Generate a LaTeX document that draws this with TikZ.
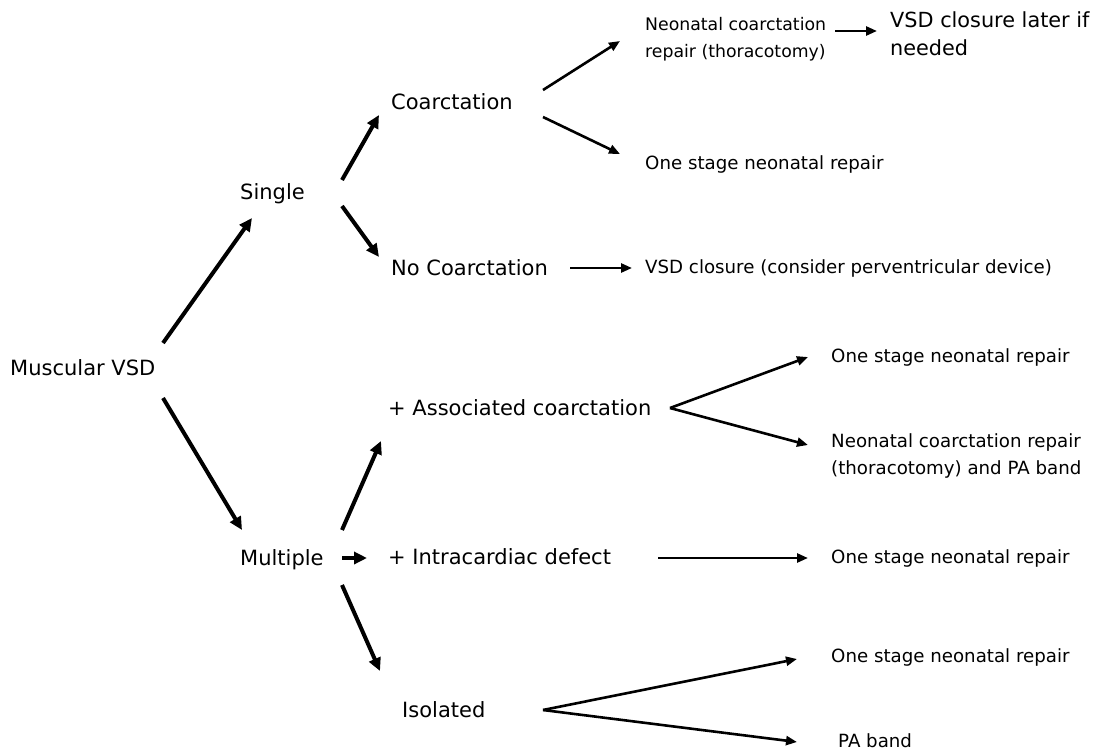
\documentclass[tikz,border=0pt]{standalone}
\usepackage{fontspec}
\setmainfont{DejaVu Sans}
\usetikzlibrary{arrows.meta}
\tikzset{
  big/.style={font=\fontsize{21}{24}\selectfont, inner sep=0pt, anchor=base west},
  sm/.style={font=\fontsize{18.2}{27}\selectfont, inner sep=0pt, anchor=base west, align=left},
  thick arr/.style={line width=4pt, -{Triangle[length=13pt,width=12pt]}},
  arr/.style={line width=2.6pt, -{Triangle[length=11pt,width=9pt]}},
}
\begin{document}
\begin{tikzpicture}[x=1pt,y=-1pt]
\useasboundingbox (0,0) rectangle (1101,755);
% nodes (multi-line nodes: base = baseline of last line)
\node[big] (mvsd) at (10,375) {Muscular VSD};
\node[big] (single) at (240,199) {Single};
\node[big] (coarc) at (391,109) {Coarctation};
\node[big] (nocoarc) at (391,275) {No Coarctation};
\node[sm] (vsdcl) at (645,273) {VSD closure (consider perventricular device)};
\node[sm, font=\fontsize{17.3}{27}\selectfont] (neo1) at (645,57) {Neonatal coarctation\\repair (thoracotomy)};
\node[sm, font=\fontsize{20.8}{28}\selectfont] (later) at (890,55) {VSD closure later if\\needed};
\node[sm] (one1) at (645,169) {One stage neonatal repair};
\node[big] (assoc) at (388,415) {+ Associated coarctation};
\node[sm] (one2) at (831,362) {One stage neonatal repair};
\node[sm] (neo2) at (831,474) {Neonatal coarctation repair\\(thoracotomy) and PA band};
\node[big] (mult) at (240,565) {Multiple};
\node[big] (intra) at (388,564) {+ Intracardiac defect};
\node[sm] (one3) at (831,563) {One stage neonatal repair};
\node[big] (iso) at (402,717) {Isolated};
\node[sm] (one4) at (831,662) {One stage neonatal repair};
\node[sm] (paband) at (838,747) {PA band};
% connector end points
\coordinate (mvsdA) at (163,343);
\coordinate (singleA) at (252,218);
\coordinate (mvsdB) at (163,398);
\coordinate (multA) at (242,530);
\coordinate (singleB) at (342,180);
\coordinate (coarcA) at (379,115);
\coordinate (singleC) at (342,206);
\coordinate (nocoarcA) at (379,257);
\coordinate (coarcB) at (543,90);
\coordinate (neo1A) at (620,41);
\coordinate (coarcC) at (543,117);
\coordinate (one1A) at (620,154);
\coordinate (neo1B) at (835,31);
\coordinate (laterA) at (877,31);
\coordinate (nocoarcB) at (570,268);
\coordinate (vsdclA) at (632,268);
\coordinate (multB) at (342,530);
\coordinate (assocA) at (381,441);
\coordinate (multC) at (342,558);
\coordinate (intraA) at (367,558);
\coordinate (multD) at (342,585);
\coordinate (isoA) at (380,671);
\coordinate (assocB) at (670,408);
\coordinate (one2A) at (808,357);
\coordinate (neo2A) at (808,445);
\coordinate (intraB) at (658,558);
\coordinate (one3A) at (808,558);
\coordinate (isoB) at (543,710);
\coordinate (one4A) at (797,659);
\coordinate (pabandA) at (797,742);
% connectors
\draw[thick arr] (mvsdA) -- (singleA);
\draw[thick arr] (mvsdB) -- (multA);
\draw[thick arr] (singleB) -- (coarcA);
\draw[thick arr] (singleC) -- (nocoarcA);
\draw[arr] (coarcB) -- (neo1A);
\draw[arr] (coarcC) -- (one1A);
\draw[arr] (neo1B) -- (laterA);
\draw[arr] (nocoarcB) -- (vsdclA);
\draw[thick arr] (multB) -- (assocA);
\draw[thick arr] (multC) -- (intraA);
\draw[thick arr] (multD) -- (isoA);
\draw[arr] (assocB) -- (one2A);
\draw[arr] (assocB) -- (neo2A);
\draw[arr] (intraB) -- (one3A);
\draw[arr] (isoB) -- (one4A);
\draw[arr] (isoB) -- (pabandA);
\end{tikzpicture}
\end{document}
